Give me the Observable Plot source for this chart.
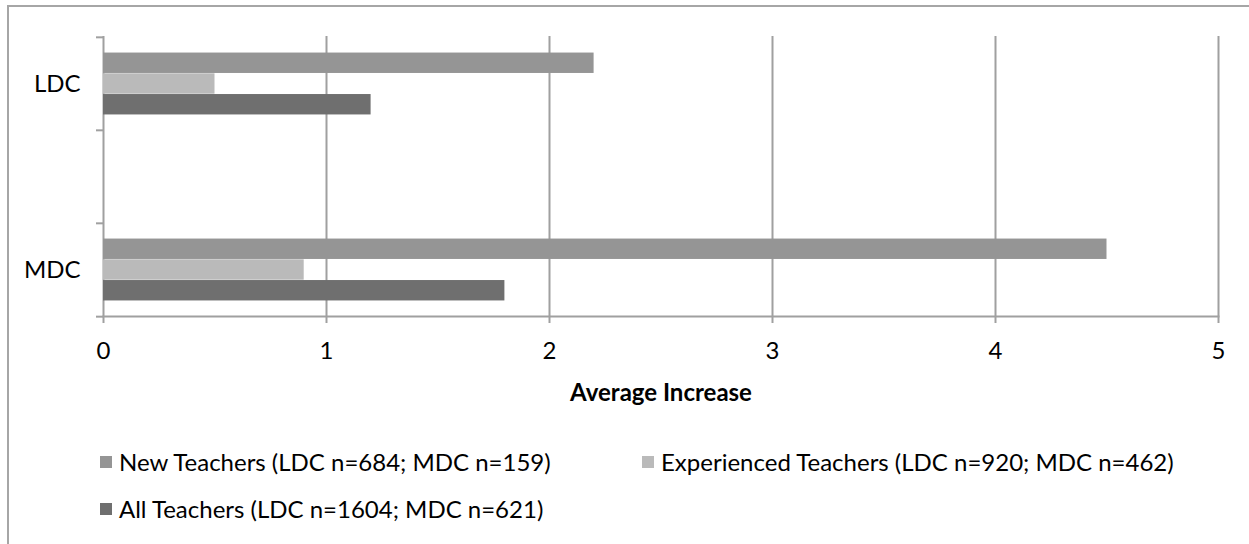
<!DOCTYPE html>
<html>
<head>
<meta charset="utf-8">
<script src="https://cdn.jsdelivr.net/npm/d3@7"></script>
<script src="https://cdn.jsdelivr.net/npm/@observablehq/plot@0.6"></script>
<style>
  body { margin: 0; background: #fff; }
  #wrap { position: relative; width: 1249px; height: 544px; overflow: hidden; font-family: Lato, sans-serif; color: #000; }
  #border { position: absolute; left: 7px; top: 5px; width: 1300px; height: 600px; border: 2px solid #a6a6a6; box-sizing: border-box; }
  #chart { position: absolute; left: 0; top: 0; }
  #legend { position: absolute; left: 100px; top: 438px; display: grid; grid-template-columns: 542px auto; grid-auto-rows: 47px; font-size: 24px; }
  .item { display: flex; align-items: center; white-space: nowrap; }
  .sw { width: 12px; height: 12px; margin-right: 7px; flex: none; }
</style>
</head>
<body>
<div id="wrap">
  <div id="border"></div>
  <div id="chart"></div>
  <div id="legend"></div>
</div>
<script>
// ---- data ----
const categories = ["LDC", " ", "MDC"];
const series = [
  "New Teachers (LDC n=684; MDC n=159)",
  "Experienced Teachers (LDC n=920; MDC n=462)",
  "All Teachers (LDC n=1604; MDC n=621)"
];
const ldcValues = [2.2, 0.5, 1.2];
const mdcValues = [4.5, 0.9, 1.8];
const xTicks = [0, 1, 2, 3, 4, 5];
const xLabel = "Average Increase";
const colors = ["#959595", "#bababa", "#6f6f6f"];

const rows = [];
series.forEach((s, i) => {
  rows.push({category: "LDC", series: s, value: ldcValues[i]});
  rows.push({category: "MDC", series: s, value: mdcValues[i]});
});

// ---- layout ----
const W = 1249, H = 420;
const mTop = 36, mBottom = H - 316, mLeft = 103, mRight = W - 1218;
const band = (H - mTop - mBottom) / categories.length;
const grid = "#a0a0a0";
const fs = 24;

const barMarks = series.map((s, i) => Plot.barX(rows.filter(d => d.series === s), {
  x: "value", y: "category", fill: "series",
  insetTop: band * (0.75 + i) / 4.5,
  insetBottom: band * (2.75 - i) / 4.5
}));

const chart = Plot.plot({
  width: W, height: H,
  marginTop: mTop, marginBottom: mBottom, marginLeft: mLeft, marginRight: mRight,
  style: {fontFamily: "Lato, sans-serif", fontSize: fs + "px", color: "#000", background: "transparent", overflow: "visible"},
  x: {domain: [0, 5], axis: null},
  y: {type: "band", domain: categories, padding: 0, axis: null},
  color: {domain: series, range: colors},
  marks: [
    Plot.ruleX(xTicks, {stroke: grid, strokeWidth: 2}),
    Plot.frame({anchor: "bottom", stroke: grid, strokeWidth: 2}),
    ...barMarks,
    Plot.axisX(xTicks, {
      tickSize: 7, tickPadding: 18, stroke: grid, strokeWidth: 2,
      fill: "#000", fontSize: fs, tickFormat: d => String(d),
      label: xLabel, labelAnchor: "center", labelOffset: 84, labelArrow: "none"
    }),
    Plot.axisY(categories, {tickSize: 7, dy: -band / 2, stroke: grid, strokeWidth: 2, tickFormat: () => "", label: null}),
    Plot.axisY([categories[categories.length - 1]], {tickSize: 7, dy: band / 2, stroke: grid, strokeWidth: 2, tickFormat: () => "", label: null}),
    Plot.axisY(categories, {tickSize: 0, tickPadding: 23, fill: "#000", fontSize: fs, tickFormat: d => d.trim(), label: null})
  ]
});
const lab = chart.querySelector('[aria-label="x-axis label"]');
if (lab) lab.style.fontWeight = "bold";
document.getElementById("chart").appendChild(chart);

// ---- legend ----
const legend = document.getElementById("legend");
series.forEach((s, i) => {
  const it = document.createElement("div");
  it.className = "item";
  const sw = document.createElement("span");
  sw.className = "sw";
  sw.style.background = colors[i];
  const tx = document.createElement("span");
  tx.textContent = s;
  it.appendChild(sw); it.appendChild(tx);
  legend.appendChild(it);
});
</script>
</body>
</html>
